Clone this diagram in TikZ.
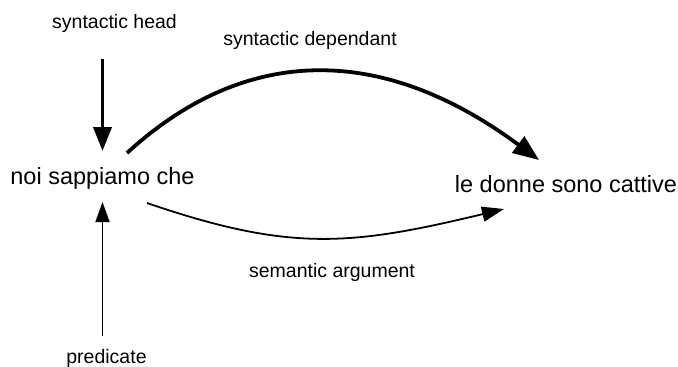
\documentclass[tikz,border=0pt]{standalone}
\usepackage{fontspec}
\setmainfont{Liberation Sans}
\usetikzlibrary{arrows.meta}
\begin{document}
\begin{tikzpicture}[x=1pt,y=-1pt,
  small/.style={inner sep=0pt,anchor=base,font=\fontsize{19.5}{23}\selectfont},
  big/.style={inner sep=0pt,anchor=base,font=\fontsize{23.5}{28}\selectfont},
  thickarr/.style={line width=3.8pt,-{Triangle[length=24pt,width=18pt]}},
  thinarr/.style={line width=1.8pt,-{Triangle[length=20pt,width=14pt]}}]
\useasboundingbox (0,0) rectangle (678,367);
\node[small] (head) at (114.5,28) {syntactic head};
\node[small] (dep) at (310,45) {syntactic dependant};
\node[big] (noi) at (102.5,184) {noi sappiamo che};
\node[big] (donne) at (566,192) {le donne sono cattive};
\node[small] (sem) at (332,277) {semantic argument};
\node[small] (pred) at (106.5,363) {predicate};
\coordinate (h1) at (102.5,59);
\coordinate (h2) at (102.5,151);
\coordinate (p1) at (102.5,336);
\coordinate (p2) at (102.5,202);
\coordinate (d1) at (127,153);
\coordinate (d2) at (539,160);
\coordinate (s1) at (147,203);
\coordinate (s2) at (504,209);
\draw[thickarr] (h1) -- (h2);
\draw[thinarr] (p1) -- (p2);
\draw[thickarr,-{Triangle[length=26pt,width=20pt]}] (d1) .. controls (247,43) and (384,45) .. (d2);
\draw[thinarr,-{Triangle[length=22pt,width=15pt]}] (s1) .. controls (290,252) and (350,246) .. (s2);
\end{tikzpicture}
\end{document}
